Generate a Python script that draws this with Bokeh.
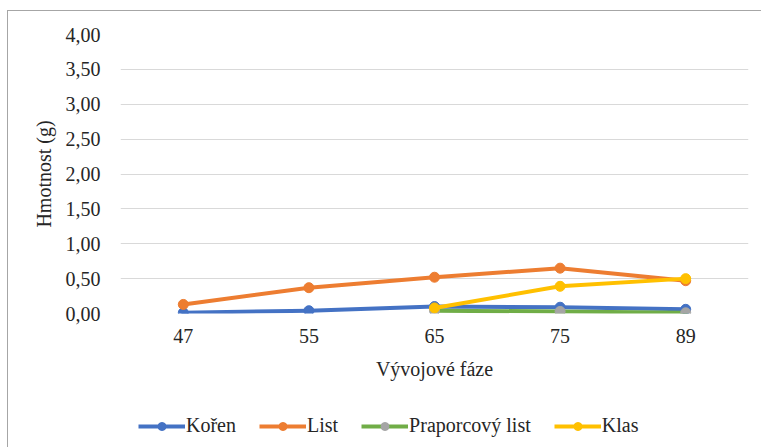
from bokeh.plotting import figure
from bokeh.layouts import column
from bokeh.models import (ColumnDataSource, FactorRange, Range1d, FixedTicker,
                          CustomJSTickFormatter, Legend, LegendItem)
from bokeh.embed import file_html
from bokeh.resources import INLINE

# ---- data ----
phases = ["47", "55", "65", "75", "89"]
koren = [0.01, 0.04, 0.10, 0.09, 0.06]
list_ = [0.13, 0.37, 0.52, 0.65, 0.47]
praporcovy = [None, None, 0.04, 0.03, 0.01]
klas = [None, None, 0.08, 0.39, 0.50]
y_ticks = [0.0, 0.5, 1.0, 1.5, 2.0, 2.5, 3.0, 3.5, 4.0]
series_names = ["Kořen", "List", "Praporcový list", "Klas"]
x_title = "Vývojové fáze"
y_title = "Hmotnost (g)"

FONT = "'Liberation Serif'"
FS = "20px"
TXT = "#262626"

W = 753
p = figure(width=W, height=384, x_range=FactorRange(*phases),
           y_range=Range1d(0, 4), output_backend="svg", toolbar_location=None,
           min_border_left=112, min_border_right=13, min_border_top=23,
           min_border_bottom=82)
p.outline_line_color = None
p.background_fill_color = "white"
p.border_fill_color = "white"

p.xgrid.grid_line_color = None
p.ygrid.grid_line_color = "#d9d9d9"
p.ygrid.grid_line_width = 1

p.yaxis.ticker = FixedTicker(ticks=y_ticks)
p.yaxis.formatter = CustomJSTickFormatter(code="return tick.toFixed(2).replace('.', ',');")
for ax in (p.xaxis[0], p.yaxis[0]):
    ax.axis_line_color = None
    ax.major_tick_line_color = None
    ax.minor_tick_line_color = None
    ax.major_tick_out = 0
    ax.major_tick_in = 0
    ax.minor_tick_out = 0
    ax.major_label_text_font = FONT
    ax.major_label_text_font_size = FS
    ax.major_label_text_color = TXT
    ax.axis_label_text_font = FONT
    ax.axis_label_text_font_size = FS
    ax.axis_label_text_font_style = "normal"
    ax.axis_label_text_color = TXT

p.yaxis.major_label_standoff = 20
p.yaxis.axis_label_standoff = 8
p.yaxis.axis_label = y_title
p.xaxis.major_label_standoff = 15
p.xaxis.axis_label_standoff = 12
p.xaxis.axis_label = x_title


def clean(vals):
    return [float("nan") if v is None else v for v in vals]


specs = [
    (koren, "#4472C4", "#4472C4"),
    (list_, "#ED7D31", "#ED7D31"),
    (praporcovy, "#70AD47", "#A5A5A5"),
    (klas, "#FFC000", "#FFC000"),
]

# legend strip below the chart
lg = figure(width=W, height=52, x_range=FactorRange(*phases), y_range=Range1d(0, 4),
            output_backend="svg", toolbar_location=None,
            min_border_left=0, min_border_right=0, min_border_top=0, min_border_bottom=0)
lg.axis.visible = False
lg.grid.visible = False
lg.outline_line_color = None
lg.background_fill_color = "white"
lg.border_fill_color = "white"

items = []
for name, (vals, lc, mc) in zip(series_names, specs):
    src = ColumnDataSource(dict(x=phases, y=clean(vals)))
    p.line("x", "y", source=src, line_color=lc, line_width=4, line_cap="round", line_join="round")
    p.scatter("x", "y", source=src, size=10, fill_color=mc, line_color=mc)
    l1 = lg.line("x", "y", source=src, line_color=lc, line_width=4, visible=False)
    l2 = lg.scatter("x", "y", source=src, size=10, fill_color=mc, line_color=mc, visible=False)
    items.append(LegendItem(label=name, renderers=[l1, l2]))

legend = Legend(items=items, orientation="horizontal", location=(18, 10),
                label_text_font=FONT, label_text_font_size=FS,
                label_text_color=TXT, glyph_width=47, glyph_height=20,
                label_standoff=1, spacing=23, padding=0, margin=0,
                inactive_fill_alpha=0,
                border_line_color=None, background_fill_alpha=0)
lg.add_layout(legend, "center")

layout = column(p, lg, spacing=0)
layout.styles = {"margin-left": "7px", "margin-top": "10px",
                 "border-top": "1px solid #a6a6a6", "border-left": "1px solid #a6a6a6"}

open("out.html", "w").write(file_html(layout, INLINE))
